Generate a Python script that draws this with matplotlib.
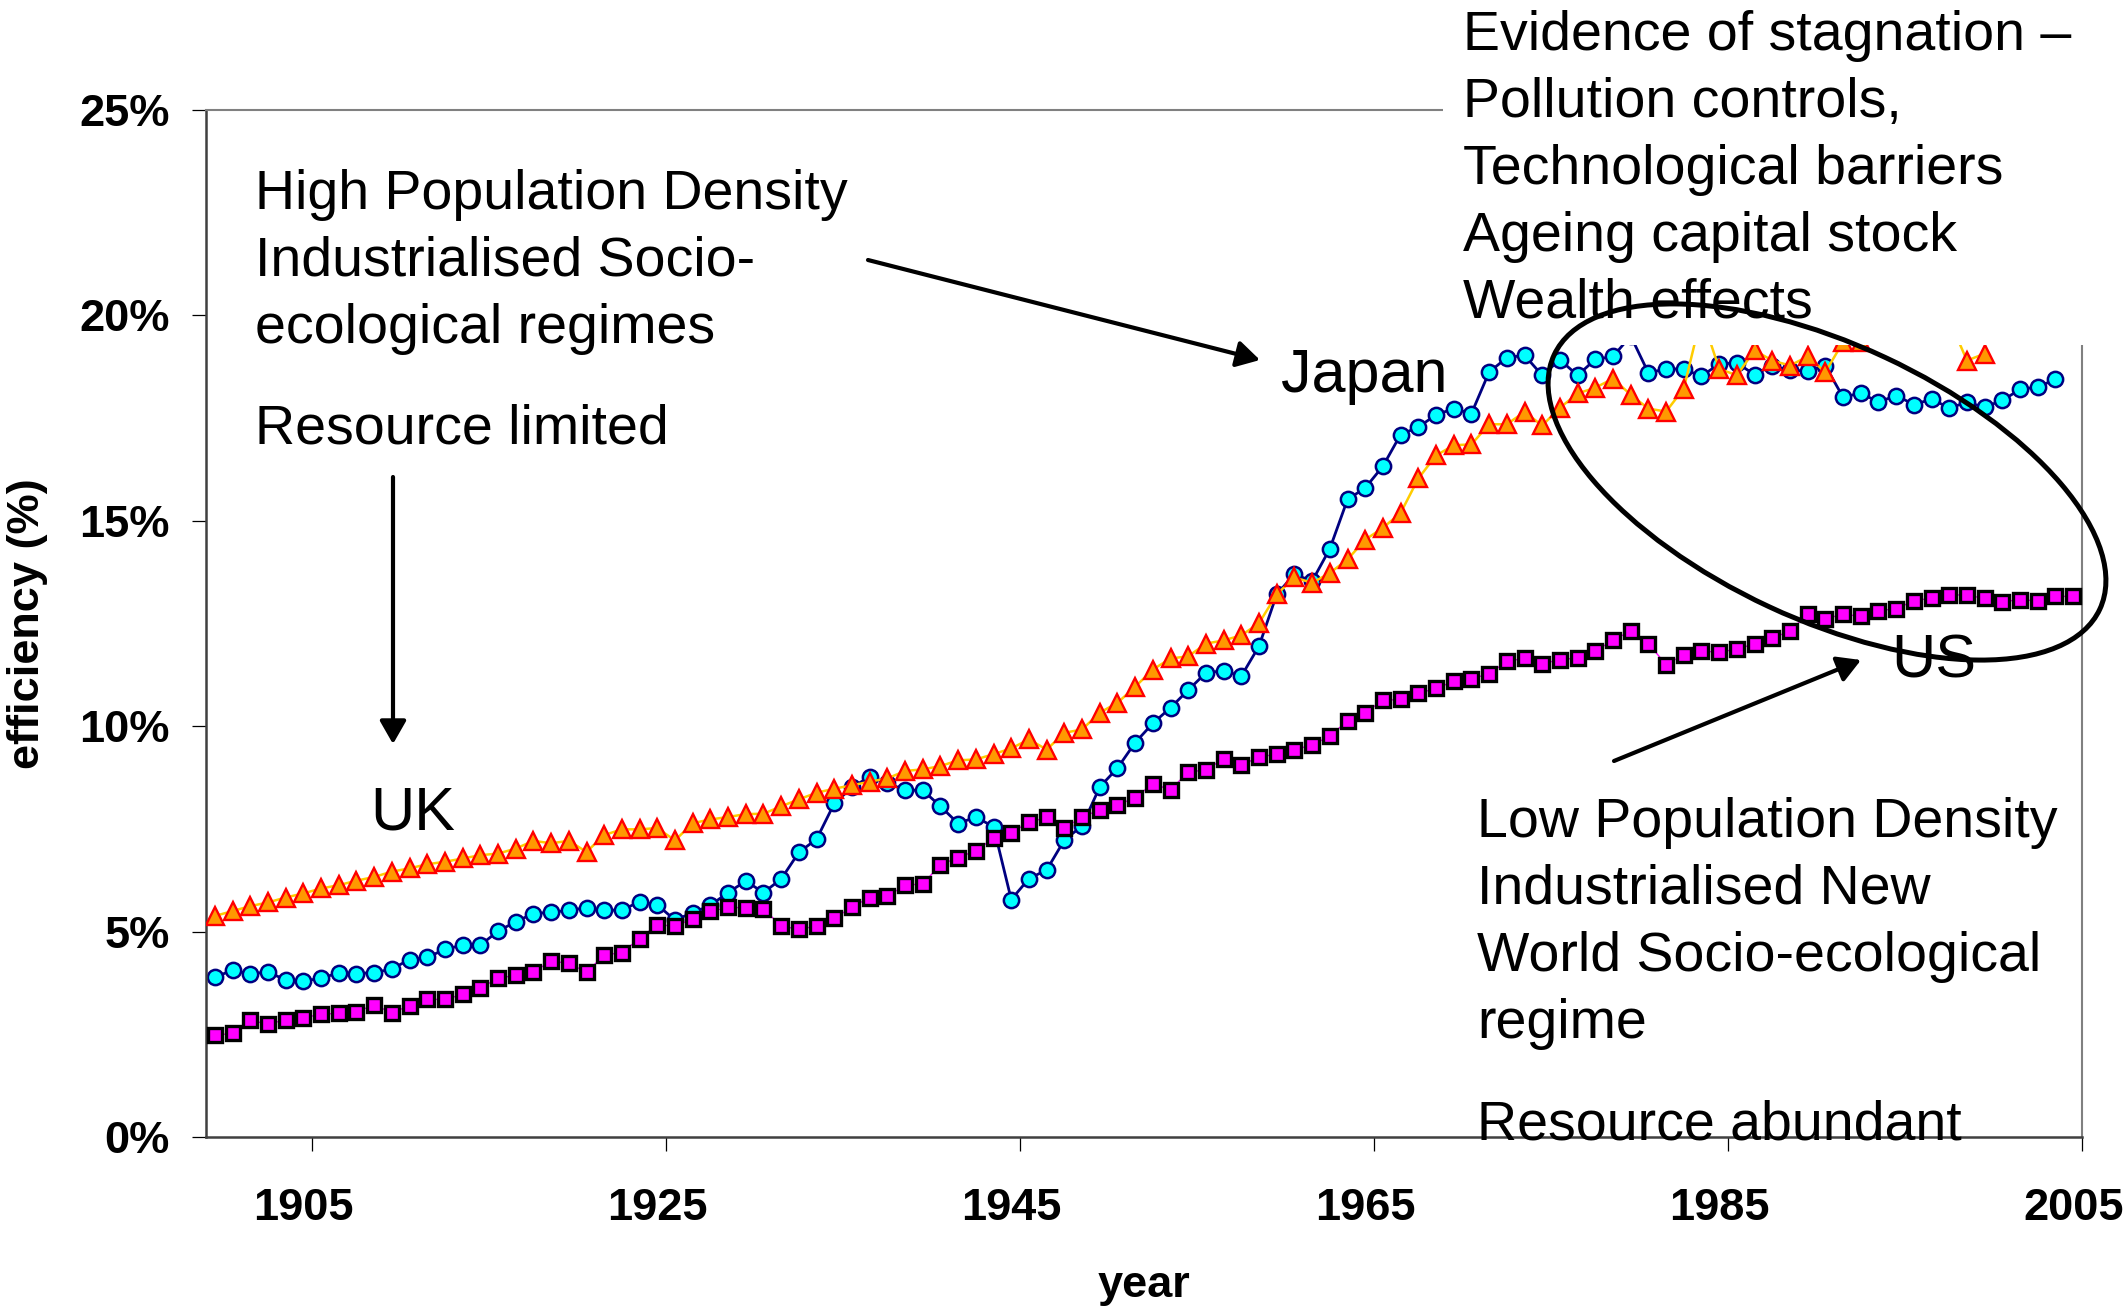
import matplotlib
matplotlib.use("Agg")
import matplotlib.pyplot as plt
from matplotlib.patches import Ellipse, Rectangle, FancyArrowPatch
import numpy as np

plt.rcParams['font.family'] = ['Liberation Sans', 'DejaVu Sans']

W, H = 2127, 1307

# efficiency (%) per year
years = np.arange(1900, 2006)

uk = [5.38, 5.50, 5.62, 5.71, 5.83, 5.93, 6.05, 6.13, 6.24, 6.33,
      6.46, 6.54, 6.64, 6.70, 6.78, 6.86, 6.90, 7.02, 7.21, 7.15,
      7.21, 6.94, 7.35, 7.49, 7.49, 7.52, 7.22, 7.64, 7.73, 7.79,
      7.86, 7.87, 8.05, 8.22, 8.38, 8.48, 8.56, 8.65, 8.73, 8.91,
      8.95, 9.03, 9.17, 9.19, 9.32, 9.46, 9.68, 9.43, 9.84, 9.92,
      10.33, 10.57, 10.96, 11.38, 11.65, 11.70, 12.01, 12.09, 12.21, 12.51,
      13.21, 13.62, 13.49, 13.73, 14.06, 14.54, 14.83, 15.19, 16.03, 16.59,
      16.84, 16.86, 17.35, 17.35, 17.65, 17.32, 17.75, 18.10, 18.24, 18.46,
      18.07, 17.73, 17.66, 18.22, 20.00, 18.70, 18.54, 19.15, 18.90, 18.78,
      19.00, 18.62, 19.35, 19.35, 19.70, 19.90, 20.10, 20.00, 19.90, 18.90,
      19.07]

japan = [3.89, 4.06, 3.97, 4.02, 3.82, 3.80, 3.86, 4.00, 3.98, 4.00,
         4.09, 4.32, 4.37, 4.57, 4.67, 4.67, 5.01, 5.24, 5.44, 5.47,
         5.52, 5.58, 5.52, 5.52, 5.73, 5.65, 5.28, 5.46, 5.64, 5.95,
         6.23, 5.95, 6.28, 6.93, 7.25, 8.12, 8.51, 8.77, 8.62, 8.44,
         8.44, 8.05, 7.63, 7.79, 7.55, 5.78, 6.29, 6.50, 7.23, 7.57,
         8.52, 8.98, 9.60, 10.07, 10.45, 10.88, 11.30, 11.35, 11.22, 11.95,
         13.21, 13.70, 13.53, 14.32, 15.52, 15.80, 16.33, 17.10, 17.28, 17.58,
         17.73, 17.61, 18.62, 18.97, 19.03, 18.54, 18.92, 18.54, 18.93, 19.00,
         19.50, 18.60, 18.70, 18.69, 18.52, 18.82, 18.84, 18.56, 18.78, 18.66,
         18.65, 18.77, 18.01, 18.11, 17.89, 18.05, 17.83, 17.96, 17.75, 17.88,
         17.77, 17.93, 18.20, 18.26, 18.44]

us = [2.48, 2.52, 2.85, 2.74, 2.86, 2.90, 2.99, 3.01, 3.05, 3.21,
      3.03, 3.19, 3.35, 3.35, 3.47, 3.63, 3.86, 3.94, 4.02, 4.28,
      4.23, 4.01, 4.43, 4.49, 4.83, 5.17, 5.13, 5.31, 5.49, 5.59,
      5.58, 5.56, 5.13, 5.06, 5.13, 5.32, 5.60, 5.83, 5.86, 6.13,
      6.16, 6.63, 6.80, 6.97, 7.27, 7.41, 7.66, 7.78, 7.53, 7.78,
      7.97, 8.08, 8.26, 8.60, 8.45, 8.89, 8.93, 9.21, 9.05, 9.25,
      9.32, 9.43, 9.54, 9.76, 10.13, 10.33, 10.63, 10.65, 10.80, 10.92,
      11.09, 11.16, 11.27, 11.58, 11.65, 11.52, 11.62, 11.66, 11.82, 12.10,
      12.31, 12.01, 11.50, 11.74, 11.82, 11.81, 11.87, 12.01, 12.15, 12.31,
      12.74, 12.62, 12.72, 12.68, 12.81, 12.86, 13.05, 13.12, 13.20, 13.19,
      13.11, 13.03, 13.08, 13.05, 13.16, 13.16]

y_ticks = [0, 5, 10, 15, 20, 25]
x_tick_years = [1905, 1925, 1945, 1965, 1985, 2005]

fig = plt.figure(figsize=(W / 100, H / 100), dpi=100)
ax = fig.add_axes([206 / W, 1 - 1137 / H, (2082 - 206) / W, (1137 - 110) / H])


def px(x, y):
    # pixel position on the full-size picture (origin top left) -> inches
    return x / 100, (H - y) / 100


# --- the three series ---
ax.plot(years[:len(japan)], japan, color='#000080', lw=2.0,
        marker='o', ms=11, mfc='#00FFFF', mec='#000080', mew=1.8, zorder=2)
ax.plot(years[:len(uk)], uk, color='#FFCC00', lw=1.8,
        marker='^', ms=13, mfc='#FF9900', mec='#FF0000', mew=1.7, zorder=3)
ax.plot(years[:len(us)], us, color='#FF00FF', lw=1.0,
        marker='s', ms=10.5, mfc='#FF00FF', mec='black', mew=2.4, zorder=4)

ax.set_xlim(1899.5, 2005.5)
ax.set_ylim(0, 25)

# Excel style category axis: tick marks between categories, labels on them
ax.set_xticks([y + 0.5 for y in x_tick_years])
ax.set_xticks(x_tick_years, minor=True)
ax.set_xticklabels([str(y) for y in x_tick_years], minor=True,
                   fontsize=32.5, fontweight='bold')
ax.tick_params(axis='x', which='major', labelbottom=False, length=10,
               width=0.9, color='black', direction='out')
ax.tick_params(axis='x', which='minor', length=0, pad=37)

ax.set_yticks(y_ticks)
ax.set_yticklabels([f"{v}%" for v in y_ticks], fontsize=32.5, fontweight='bold')
ax.tick_params(axis='y', length=10, width=0.9, color='black', pad=16,
               direction='out')

for side in ['left', 'bottom']:
    ax.spines[side].set_color('#404040')
    ax.spines[side].set_linewidth(1.8)
for side in ['top', 'right']:
    ax.spines[side].set_color('#808080')
    ax.spines[side].set_linewidth(1.5)

fig.text(*px(28, 624), 'efficiency (%)', transform=fig.dpi_scale_trans,
         rotation=90, ha='center', va='center', fontsize=32.5, fontweight='bold')
fig.text(*px(1144, 1285), 'year', transform=fig.dpi_scale_trans,
         ha='center', va='center', fontsize=32.5, fontweight='bold')

# white text box in the top right hides the top of the curves
fig.add_artist(Rectangle(px(1443, 345), 6.84, 3.45, transform=fig.dpi_scale_trans,
                         facecolor='white', edgecolor='none', zorder=1))

# ellipse round the stagnation period
fig.add_artist(Ellipse(px(1827, 482), 6.02, 2.75, angle=-25,
                       transform=fig.dpi_scale_trans, fill=False,
                       edgecolor='black', lw=3.6, zorder=2))


def arrow(x0, y0, x1, y1):
    fig.add_artist(FancyArrowPatch(px(x0, y0), px(x1, y1),
                                   transform=fig.dpi_scale_trans,
                                   arrowstyle='-|>,head_length=14,head_width=8',
                                   mutation_scale=1, shrinkA=0, shrinkB=0,
                                   color='black', lw=3, zorder=3))


def put_lines(lines, x, y0, size=40, step=67):
    for i, line in enumerate(lines):
        fig.text(*px(x, y0 + i * step), line, transform=fig.dpi_scale_trans,
                 fontsize=size, ha='left', va='baseline', zorder=5)


arrow(393, 477, 393, 744)
arrow(868, 260, 1260, 360)
arrow(1614, 761, 1861, 660)

put_lines(['High Population Density', 'Industrialised Socio-',
           'ecological regimes'], 255, 209)
put_lines(['Resource limited'], 255, 443)
put_lines(['UK'], 370, 829, size=44)
put_lines(['Japan'], 1281, 392, size=44)
put_lines(['US'], 1891, 678, size=44)
put_lines(['Evidence of stagnation \u2013', 'Pollution controls,',
           'Technological barriers', 'Ageing capital stock',
           'Wealth effects'], 1463, 50)
put_lines(['Low Population Density', 'Industrialised New',
           'World Socio-ecological', 'regime'], 1477, 837)
put_lines(['Resource abundant'], 1477, 1139)

fig.savefig('out.png', dpi=100)
